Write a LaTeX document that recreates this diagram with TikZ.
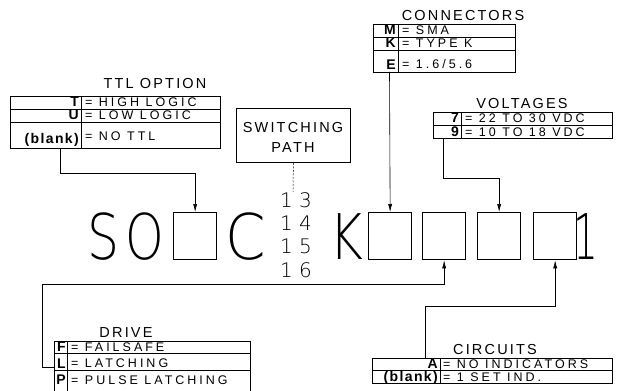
\documentclass[tikz,border=0pt]{standalone}
\usepackage{fontspec}
\setmainfont{Liberation Sans}
\newfontfamily\draft[LetterSpace=24.0]{Liberation Sans}
\newfontfamily\tfont[LetterSpace=15.0]{Liberation Sans}
\newfontfamily\keyf[LetterSpace=10.0]{Liberation Sans Bold}
\IfFontExistsTF{DejaVu Sans ExtraLight}{%
  \newfontfamily\thinf{DejaVu Sans ExtraLight}%
  \def\sxS{0.80}\def\sxO{0.78}\def\sxC{0.92}\def\sxK{0.82}\def\sxI{0.62}}{%
  \newfontfamily\thinf{DejaVu Sans}%
  \def\sxS{0.78}\def\sxO{0.76}\def\sxC{0.90}\def\sxK{0.80}\def\sxI{0.60}}
\usetikzlibrary{arrows.meta,calc}
\begin{document}
\begin{tikzpicture}[x=1pt,y=-1pt,
  tbl/.style={draw, line width=0.8pt, inner sep=0pt, outer sep=0pt, anchor=north west},
  sep/.style={line width=0.8pt},
  lbl/.style={font=\draft\fontsize{12.5pt}{12.5pt}\selectfont, anchor=base west, inner sep=0pt},
  key/.style={font=\keyf\fontsize{14pt}{14pt}\selectfont, anchor=base east, inner sep=0pt},
  ttl/.style={font=\tfont\fontsize{14.5pt}{14.5pt}\selectfont, anchor=base, inner sep=0pt},
  big/.style={font=\thinf\fontsize{63pt}{63pt}\selectfont, anchor=base, inner sep=0pt},
  num/.style={font=\thinf\fontsize{20pt}{20pt}\selectfont, anchor=base, inner sep=0pt},
  bigbox/.style={draw, line width=1.3pt, inner sep=0pt, anchor=north west, minimum width=43pt, minimum height=47pt},
  conn/.style={line width=0.6pt, -{Latex[length=8pt,width=4pt]}},
  dots/.style={line width=0.5pt, dash pattern=on 2pt off 1.5pt}]
\useasboundingbox (0,0) rectangle (617,390);

% ---------- TTL OPTION ----------
\node[ttl] (ttlTitle) at (155,89) {TTL OPTION};
\node[tbl, minimum width=210pt, minimum height=13pt] (ttlA) at (10,96) {};
\node[tbl, minimum width=210pt, minimum height=13pt] (ttlB) at (10,109) {};
\node[tbl, minimum width=210pt, minimum height=26pt] (ttlC) at (10,122) {};
\draw[sep] ($(ttlA.north west)+(71,0)$) -- ($(ttlC.south west)+(71,0)$);
\node[key] (ttlk1) at (79,107) {T};
\node[lbl] (ttll1) at (85,107) {= HIGH LOGIC};
\node[key] (ttlk2) at (79,120) {U};
\node[lbl] (ttll2) at (85,120) {= LOW LOGIC};
\node[key] (ttlk3) at (79,143) {(blank)};
\node[lbl] (ttll3) at (85,141) {= NO TTL};
\coordinate (ttlOut) at ($(ttlC.south west)+(50,0)$);

% ---------- SWITCHING PATH ----------
\node[draw, line width=0.8pt, minimum width=114pt, minimum height=54pt, anchor=north west, inner sep=0pt] (sw) at (236,108) {};
\node[ttl] (swt1) at (293,132) {SWITCHING};
\node[ttl] (swt2) at (293,152) {PATH};
\coordinate (swEnd) at (293,192);

% ---------- CONNECTORS ----------
\node[ttl] (conTitle) at (463,21) {CONNECTORS};
\node[tbl, minimum width=142pt, minimum height=13pt] (conA) at (373,24) {};
\node[tbl, minimum width=142pt, minimum height=13pt] (conB) at (373,37) {};
\node[tbl, minimum width=142pt, minimum height=22pt] (conC) at (373,50) {};
\draw[sep] ($(conA.north west)+(25,0)$) -- ($(conC.south west)+(25,0)$);
\node[key] (conk1) at (396,35) {M};
\node[lbl] (conl1) at (402,35) {= SMA};
\node[key] (conk2) at (396,48) {K};
\node[lbl] (conl2) at (402,48) {= TYPE K};
\node[key] (conk3) at (396,69.5) {E};
\node[lbl] (conl3) at (402,68.5) {= 1.6/5.6};
\coordinate (conOut) at ($(conC.south west)+(16.5,0)$);

% ---------- VOLTAGES ----------
\node[ttl] (volTitle) at (522,108.5) {VOLTAGES};
\node[tbl, minimum width=179pt, minimum height=13pt] (volA) at (433,112) {};
\node[tbl, minimum width=179pt, minimum height=13pt] (volB) at (433,125) {};
\draw[sep] ($(volA.north west)+(28,0)$) -- ($(volB.south west)+(28,0)$);
\node[key] (volk1) at (459,123) {7};
\node[lbl] (voll1) at (465,123) {= 22 TO 30 VDC};
\node[key] (volk2) at (459,136) {9};
\node[lbl] (voll2) at (465,136) {= 10 TO 18 VDC};
\coordinate (volOut) at ($(volB.south west)+(10,0)$);

% ---------- main part number ----------
\node[big] (lS) at (103.5,259) {\scalebox{\sxS}[1]{S}};
\node[big] (lO) at (145,259) {\scalebox{\sxO}[1]{O}};
\node[bigbox] (b1) at (173,212) {};
\node[big] (lC) at (246,259) {\scalebox{\sxC}[1]{C}};
\node[num] (n13) at (296,207) {1 3};
\node[num] (n14) at (296,230) {1 4};
\node[num] (n15) at (296,253) {1 5};
\node[num] (n16) at (296,277) {1 6};
\node[big] (lK) at (346,259) {\scalebox{\sxK}[1]{K}};
\node[bigbox] (b2) at (368,212) {};
\node[bigbox] (b3) at (422,212) {};
\node[bigbox] (b4) at (477,212) {};
\node[bigbox] (b5) at (533,212) {};
\node[big] (l1) at (586,259) {\scalebox{\sxI}[1]{1}};

% ---------- DRIVE ----------
\node[ttl] (drvTitle) at (126,337.5) {DRIVE};
\node[tbl, minimum width=196pt, minimum height=12pt] (drvA) at (54,341) {};
\node[tbl, minimum width=196pt, minimum height=17pt] (drvB) at (54,353) {};
\draw[sep] (drvB.south west) -- ++(0,22) (drvB.south east) -- ++(0,22);
\draw[sep] ($(drvA.north west)+(13,0)$) -- ($(drvB.south west)+(13,22)$);
\node[key] (drvk1) at (66,351.5) {F};
\node[lbl] (drvl1) at (71,351.5) {= FAILSAFE};
\node[key] (drvk2) at (66,368.5) {L};
\node[lbl] (drvl2) at (71,367.5) {= LATCHING};
\node[key] (drvk3) at (66,384) {P};
\node[lbl] (drvl3) at (71,384) {= PULSE LATCHING};
\coordinate (drvIn) at ($(drvB.south west)+(0,-3)$);

% ---------- CIRCUITS ----------
\node[ttl] (cirTitle) at (495,354) {CIRCUITS};
\node[tbl, minimum width=240pt, minimum height=12pt] (cirA) at (372,358) {};
\node[tbl, minimum width=240pt, minimum height=13pt] (cirB) at (372,370) {};
\draw[sep] ($(cirA.north west)+(68,0)$) -- ($(cirB.south west)+(68,0)$);
\node[key] (cirk1) at (438,368.5) {A};
\node[lbl] (cirl1) at (443,368.5) {= NO INDICATORS};
\node[key] (cirk2) at (438,381.5) {(blank)};
\node[lbl] (cirl2) at (443,381.5) {= 1 SET IND.};
\coordinate (cirOut) at ($(cirA.north west)+(53,0)$);

% ---------- connectors ----------
\draw[conn] (ttlOut) -- ++(0,25) -| (b1.north);
\draw[dots] (sw.south) -- (swEnd);
\draw[conn] (conOut) -- (b2.north);
\draw[conn] (volOut) -- ++(0,40) -| (b4.north);
\draw[conn] (drvIn) -- ++(-12,0) |- ($(b3.south)+(0,24)$) -- (b3.south);
\draw[conn] (cirOut) |- ($(b5.south)+(0,46)$) -- (b5.south);
\end{tikzpicture}
\end{document}
